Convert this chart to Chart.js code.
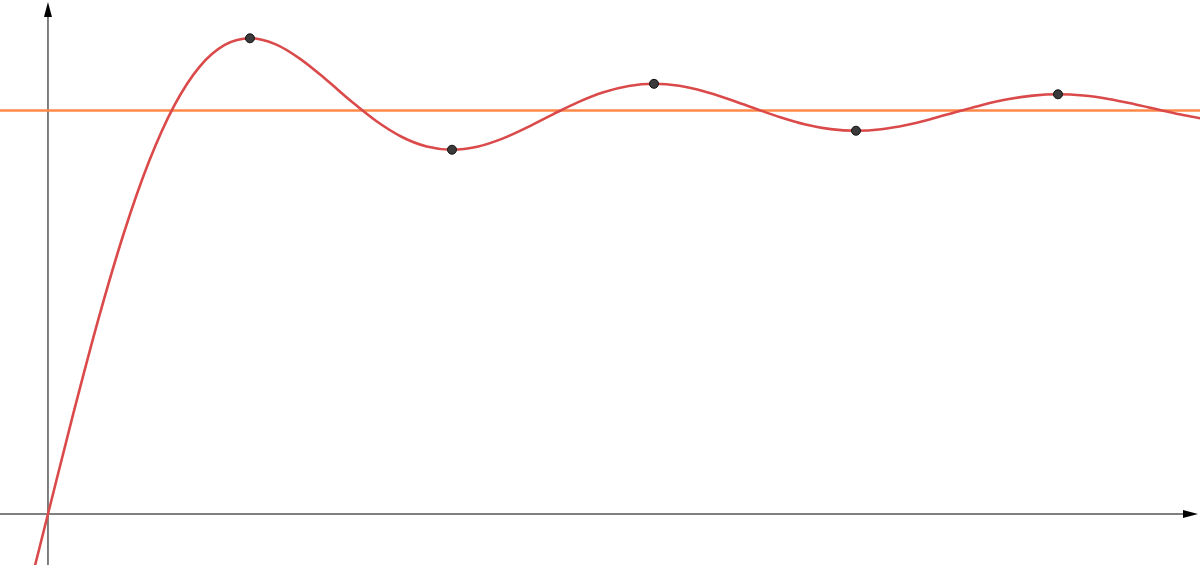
<!DOCTYPE html>
<html>
<head>
<meta charset="utf-8">
<script src="https://cdn.jsdelivr.net/npm/chart.js@4/dist/chart.umd.min.js"></script>
<style>
  html, body { margin: 0; padding: 0; background: #fff; }
  #wrap { width: 1200px; height: 565px; position: relative; }
</style>
</head>
<body>
<div id="wrap"><canvas id="myChart"></canvas></div>
<script>
// curve samples, every quarter unit
const tValues = [-0.5, -0.25, 0, 0.25, 0.5, 0.75, 1, 1.25, 1.5, 1.75, 2, 2.25, 2.5, 2.75, 3, 3.25, 3.5,
  3.75, 4, 4.25, 4.5, 4.75, 5, 5.25, 5.5, 5.75, 6, 6.25, 6.5, 6.75, 7, 7.25, 7.5, 7.75, 8,
  8.25, 8.5, 8.75, 9, 9.25, 9.5, 9.75, 10, 10.25, 10.5, 10.75, 11, 11.25, 11.5]
const yValues = [-0.4837, -0.2481, 0, 0.2481, 0.4837, 0.6952, 0.8734, 1.0120, 1.1081, 1.1624, 1.1790,
  1.1645, 1.1275, 1.0774, 1.0235, 0.9739, 0.9350, 0.9108, 0.9028,
  0.9103, 0.9304, 0.9588, 0.9906, 1.0209, 1.0453, 1.0609, 1.0662,
  1.0612, 1.0474, 1.0275, 1.0050, 0.9832, 0.9654, 0.9538, 0.9499,
  0.9537, 0.9642, 0.9794, 0.9969, 1.0139, 1.0279, 1.0370, 1.0402,
  1.0371, 1.0287, 1.0163, 1.0020, 0.9881, 0.9765]

// extrema marked with dots
const peakT = [2, 4, 6, 8, 10]
const peakY = [1.1790, 0.9028, 1.0662, 0.9499, 1.0402]

// final value (horizontal line)
const finalValue = 1

// visible window
const xMin = -0.475
const xMax = 11.406
const yMin = -0.1264
const yMax = 1.2739

const curve = tValues.map((t, i) => ({ x: t, y: yValues[i] }))
const peaks = peakT.map((t, i) => ({ x: t, y: peakY[i] }))
const level = [{ x: xMin - 1, y: finalValue }, { x: xMax + 1, y: finalValue }]

const axesPlugin = {
  id: "axes",
  beforeDatasetsDraw(chart) {
    const ctx = chart.ctx
    const x0 = chart.scales.x.getPixelForValue(0)
    const y0 = chart.scales.y.getPixelForValue(0)
    const w = chart.width
    const h = chart.height
    ctx.save()
    ctx.strokeStyle = "#555"
    ctx.lineWidth = 1.5
    ctx.beginPath()
    ctx.moveTo(0, y0)
    ctx.lineTo(w - 10, y0)
    ctx.moveTo(x0, h)
    ctx.lineTo(x0, 10)
    ctx.stroke()
    ctx.fillStyle = "#000"
    ctx.beginPath()
    ctx.moveTo(w - 2, y0)
    ctx.lineTo(w - 17, y0 - 4)
    ctx.lineTo(w - 17, y0 + 4)
    ctx.closePath()
    ctx.fill()
    ctx.beginPath()
    ctx.moveTo(x0, 2)
    ctx.lineTo(x0 - 4, 17)
    ctx.lineTo(x0 + 4, 17)
    ctx.closePath()
    ctx.fill()
    ctx.restore()
  }
}

const graf = document.getElementById("myChart").getContext("2d")
const myChart = new Chart(graf, {
  type: "line",
  data: {
    datasets: [
      {
        label: "peaks",
        data: peaks,
        showLine: false,
        pointRadius: 4.5,
        pointBackgroundColor: "#3a3a3a",
        pointBorderColor: "#111",
        pointBorderWidth: 1,
        order: 0
      },
      {
        label: "response",
        data: curve,
        borderColor: "#db4a4a",
        borderWidth: 2.6,
        pointRadius: 0,
        cubicInterpolationMode: "monotone",
        fill: false,
        order: 1
      },
      {
        label: "final",
        data: level,
        borderColor: "#ff8748",
        borderWidth: 2.6,
        pointRadius: 0,
        fill: false,
        order: 2
      }
    ]
  },
  options: {
    responsive: true,
    maintainAspectRatio: false,
    animation: false,
    layout: { padding: 0, autoPadding: false },
    plugins: {
      legend: { display: false },
      tooltip: { enabled: false }
    },
    scales: {
      x: { type: "linear", min: xMin, max: xMax, display: false },
      y: { type: "linear", min: yMin, max: yMax, display: false }
    }
  },
  plugins: [axesPlugin]
})
</script>
</body>
</html>
